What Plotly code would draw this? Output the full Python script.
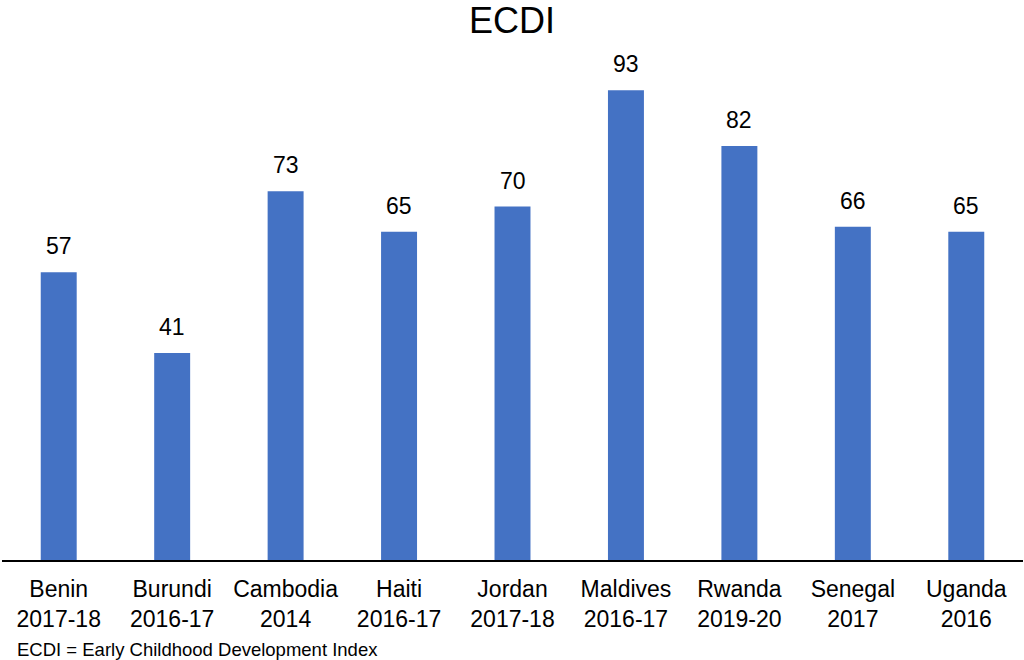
import plotly.graph_objects as go

countries = ["Benin", "Burundi", "Cambodia", "Haiti", "Jordan", "Maldives", "Rwanda", "Senegal", "Uganda"]
years = ["2017-18", "2016-17", "2014", "2016-17", "2017-18", "2016-17", "2019-20", "2017", "2016"]
values = [57, 41, 73, 65, 70, 93, 82, 66, 65]

categories = [f"{c}<br>{y}" for c, y in zip(countries, years)]

fig = go.Figure()
fig.add_trace(go.Bar(
    x=categories, y=values,
    marker=dict(color="#4472C4", line=dict(width=0)),
    hoverinfo="x+y",
))

for c, v in zip(categories, values):
    fig.add_annotation(
        x=c, y=v, text=str(v), showarrow=False,
        yanchor="middle", yshift=26,
        font=dict(family="Liberation Sans, Arial", size=23, color="#000000"),
    )

fig.add_annotation(
    xref="paper", yref="paper", x=0.0127, y=-0.178,
    xanchor="left", yanchor="middle",
    text="ECDI = Early Childhood Development Index", showarrow=False,
    font=dict(family="Liberation Sans, Arial", size=18.5, color="#000000"),
)

fig.update_layout(
    width=1024, height=660,
    margin=dict(l=2, r=1, t=55, b=100),
    paper_bgcolor="white", plot_bgcolor="white",
    bargap=0.683,
    showlegend=False,
    title=dict(
        text="ECDI", x=0.5, xanchor="center",
        y=1 - 20 / 660, yref="container", yanchor="middle",
        font=dict(family="Liberation Sans, Arial", size=36, color="#000000"),
    ),
    font=dict(family="Liberation Sans, Arial", color="#000000"),
)
fig.update_xaxes(
    showline=True, linecolor="#000000", linewidth=2,
    showgrid=False, ticks="", ticklabelstandoff=7,
    tickfont=dict(family="Liberation Sans, Arial", size=23, color="#000000"),
)
fig.update_yaxes(
    range=[0, 100], visible=False, showgrid=False, zeroline=False,
)

fig.write_html("out.html")
